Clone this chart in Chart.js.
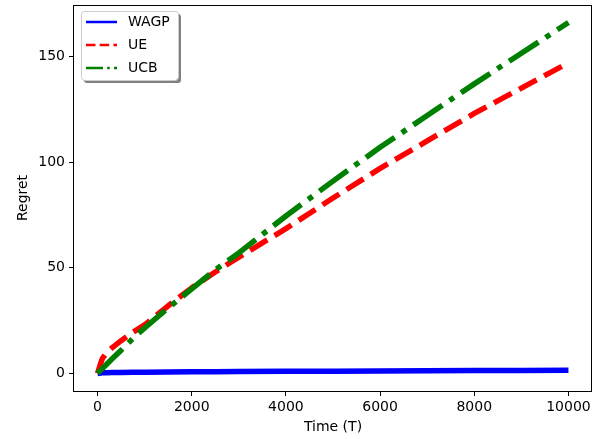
<!DOCTYPE html>
<html>
<head>
<meta charset="utf-8">
<script src="https://cdn.jsdelivr.net/npm/chart.js@4/dist/chart.umd.min.js"></script>
<style>
html,body{margin:0;padding:0;background:#fff;}
#c{display:block;}
</style>
</head>
<body>
<canvas id="c" width="608" height="439"></canvas>
<script>
// ---- data ----
const TIME = [0, 100, 200, 300, 500, 750, 1000, 1500, 2000, 2500, 3000, 4000, 5000, 6000, 7000, 8000, 9000, 10000];
const WAGP = [0, 0.3, 0.35, 0.4, 0.5, 0.55, 0.6, 0.7, 0.8, 0.85, 0.9, 1.0, 1.1, 1.2, 1.28, 1.35, 1.42, 1.5];
const UE   = [0, 7, 10, 12, 15.5, 19.5, 23, 32, 40.5, 48, 55, 68.5, 83, 97, 110, 123, 135, 147];
const UCB  = [0, 2.3, 4.5, 6.7, 11, 16.5, 21.5, 31, 40, 49, 57, 74.5, 91, 107, 122, 137, 151.5, 166];
const SERIES_NAMES = ['WAGP', 'UE', 'UCB'];
const X_TICKS = [0, 2000, 4000, 6000, 8000, 10000];
const Y_TICKS = [0, 50, 100, 150];
const X_LABEL = 'Time (T)';
const Y_LABEL = 'Regret';

const pts = (ys) => TIME.map((t, i) => ({x: t, y: ys[i]}));
const FONT = 'DejaVu Sans';
const FS = 14;

const styles = [
  {color: '#0000ff', dash: [], legendDash: []},
  {color: '#ff0000', dash: [20, 8.5], legendDash: [9.5, 4.2]},
  {color: '#008000', dash: [35, 8.5, 5.5, 8.5], legendDash: [17, 4.2, 2.6, 4.2]}
];
const seriesData = [WAGP, UE, UCB];

const datasets = SERIES_NAMES.map((name, i) => ({
  label: name,
  data: pts(seriesData[i]),
  borderColor: styles[i].color,
  backgroundColor: styles[i].color,
  borderWidth: 5.5,
  borderDash: styles[i].dash,
  borderCapStyle: 'butt',
  borderJoinStyle: 'round',
  pointRadius: 0,
  showLine: true,
  fill: false,
  tension: 0,
  order: 3 - i
}));

const framePlugin = {
  id: 'frame',
  afterDraw(chart) {
    const {ctx, chartArea: a} = chart;
    ctx.save();
    ctx.strokeStyle = '#000';
    ctx.lineWidth = 1;
    ctx.strokeRect(Math.round(a.left) - 0.5, Math.round(a.top) + 0.5,
                   Math.round(a.right - a.left), Math.round(a.bottom - a.top));
    // legend
    const lx = 81, ly = 11, lw = 97, lh = 69;
    const r = 3;
    const rr = (x, y, w, h) => {
      ctx.beginPath();
      ctx.moveTo(x + r, y);
      ctx.arcTo(x + w, y, x + w, y + h, r);
      ctx.arcTo(x + w, y + h, x, y + h, r);
      ctx.arcTo(x, y + h, x, y, r);
      ctx.arcTo(x, y, x + w, y, r);
      ctx.closePath();
    };
    ctx.fillStyle = '#808080';
    rr(lx + 3, ly + 3, lw, lh); ctx.fill();
    ctx.fillStyle = '#ffffff';
    rr(lx, ly, lw, lh); ctx.fill();
    ctx.strokeStyle = '#cccccc';
    ctx.lineWidth = 1;
    rr(lx + 0.5, ly + 0.5, lw, lh); ctx.stroke();
    const rowsY = [22, 45, 68];
    chart.data.datasets.forEach((ds, i) => {
      const y = rowsY[i];
      ctx.beginPath();
      ctx.strokeStyle = ds.borderColor;
      ctx.lineWidth = 2.5;
      ctx.lineCap = 'butt';
      ctx.setLineDash(styles[i].legendDash);
      ctx.moveTo(86, y);
      ctx.lineTo(117, y);
      ctx.stroke();
      ctx.setLineDash([]);
      ctx.fillStyle = '#000';
      ctx.font = FS + 'px "' + FONT + '"';
      ctx.textBaseline = 'middle';
      ctx.textAlign = 'left';
      ctx.fillText(ds.label, 128, y);
    });
    ctx.restore();
  }
};

const zeroPad = (s) => { s.paddingTop = 0; s.paddingBottom = 0; s.paddingLeft = 0; s.paddingRight = 0; };

new Chart(document.getElementById('c'), {
  type: 'scatter',
  data: {datasets},
  plugins: [framePlugin],
  options: {
    responsive: false,
    animation: false,
    devicePixelRatio: 1,
    layout: {padding: {left: 0, right: 16, top: 5, bottom: 0}},
    plugins: {legend: {display: false}, tooltip: {enabled: false}},
    scales: {
      x: {
        type: 'linear',
        min: -500, max: 10500,
        afterBuildTicks: (s) => { s.ticks = X_TICKS.map(v => ({value: v})); },
        afterFit: (s) => { s.height = 48; zeroPad(s); },
        border: {display: false},
        grid: {drawOnChartArea: false, drawTicks: true, tickLength: 5, color: '#000', tickWidth: 1},
        ticks: {color: '#000', font: {family: FONT, size: FS}, padding: 3, maxRotation: 0, autoSkip: false,
                callback: (v) => String(v)},
        title: {display: true, text: X_LABEL, color: '#000', font: {family: FONT, size: FS}, padding: {top: 0, bottom: 3}}
      },
      y: {
        type: 'linear',
        min: -8.3, max: 174.3,
        afterBuildTicks: (s) => { s.ticks = Y_TICKS.map(v => ({value: v})); },
        afterFit: (s) => { s.width = 74; zeroPad(s); },
        border: {display: false},
        grid: {drawOnChartArea: false, drawTicks: true, tickLength: 5, color: '#000', tickWidth: 1},
        ticks: {color: '#000', font: {family: FONT, size: FS}, padding: 4, autoSkip: false,
                callback: (v) => String(v)},
        title: {display: true, text: Y_LABEL, color: '#000', font: {family: FONT, size: FS}, padding: {top: 15, bottom: 0}}
      }
    }
  }
});
</script>
</body>
</html>
